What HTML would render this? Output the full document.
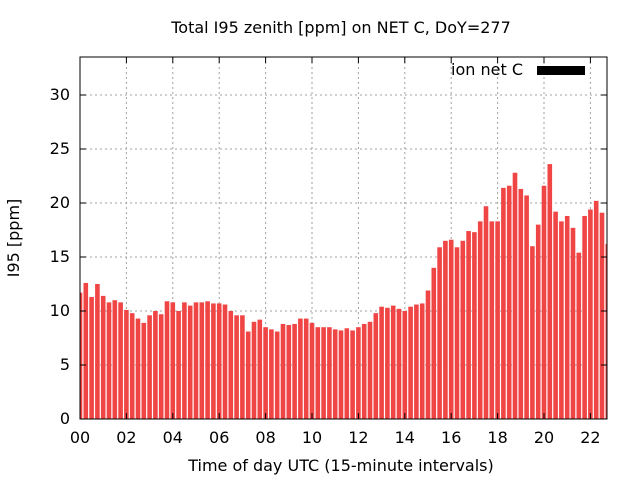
<!DOCTYPE html>
<html><head><meta charset="utf-8"><style>
body{margin:0;background:#fff;width:640px;height:480px;overflow:hidden}
svg text{font-family:"DejaVu Sans","Liberation Sans",sans-serif;font-size:16px;fill:#000}
</style></head><body>
<svg id="c" width="640" height="480">
<defs><clipPath id="clip"><rect x="80" y="57" width="527" height="362"/></clipPath></defs>
<text x="341" y="33" text-anchor="middle">Total I95 zenith [ppm] on NET C, DoY=277</text>
<text x="341" y="471" text-anchor="middle">Time of day UTC (15-minute intervals)</text>
<text transform="translate(19,238) rotate(-90)" text-anchor="middle">I95 [ppm]</text>
<g id="grid"></g>
<g id="bars" clip-path="url(#clip)"></g>
<g id="axes"></g>
<text x="523" y="75" text-anchor="end">ion net C</text>
<rect x="537" y="66" width="48" height="9" fill="#000"/>
</svg>
<script>
const values=[11.7,12.6,11.3,12.5,11.4,10.8,11.0,10.8,10.1,9.8,9.3,8.9,9.6,10.0,9.7,10.9,10.8,10.0,10.8,10.5,10.8,10.8,10.9,10.7,10.7,10.6,10.0,9.6,9.6,8.1,9.0,9.2,8.5,8.3,8.1,8.8,8.7,8.8,9.3,9.3,8.9,8.5,8.5,8.5,8.3,8.2,8.4,8.2,8.5,8.8,9.0,9.8,10.4,10.3,10.5,10.2,10.0,10.4,10.6,10.7,11.9,14.0,15.9,16.5,16.6,15.9,16.5,17.4,17.3,18.3,19.7,18.3,18.3,21.4,21.6,22.8,21.3,20.7,16.0,18.0,21.6,23.6,19.2,18.3,18.8,17.7,15.4,18.8,19.4,20.2,19.1,16.2];
const yTicks=[0,5,10,15,20,25,30];
const xTickLabels=["00","02","04","06","08","10","12","14","16","18","20","22"];
const X0=80,X1=607,Y0=419,Y1=57,PX_H=23.2;
const xs=h=>X0+h*PX_H;
const ys=v=>Y0-v*10.8;
const NS="http://www.w3.org/2000/svg";
function mk(t,a,p){const e=document.createElementNS(NS,t);for(const k in a)e.setAttribute(k,a[k]);p.appendChild(e);return e;}
const grid=document.getElementById('grid'),bars=document.getElementById('bars'),axes=document.getElementById('axes');
yTicks.forEach(v=>{const y=ys(v);
 if(v>0){const l=mk('line',{x1:X0,x2:X1,y1:y,y2:y,stroke:'#a0a0a0','stroke-dasharray':'2,3'},grid);
 
 }
 mk('line',{x1:X0,x2:X0+6,y1:y,y2:y,stroke:'#000'},axes);
 mk('line',{x1:X1,x2:X1-6,y1:y,y2:y,stroke:'#000'},axes);
 const tx=mk('text',{x:X0-10,y:y+5,'text-anchor':'end'},axes);tx.textContent=v;
 
 
});
xTickLabels.forEach((s,i)=>{const x=xs(i*2);
 if(i>0){const l=mk('line',{x1:x,x2:x,y1:Y0,y2:Y1,stroke:'#a0a0a0','stroke-dasharray':'2,3'},grid);
 
 }
 mk('line',{x1:x,x2:x,y1:Y0,y2:Y0-6,stroke:'#000'},axes);
 mk('line',{x1:x,x2:x,y1:Y1,y2:Y1+6,stroke:'#000'},axes);
 const tx=mk('text',{x:x,y:Y0+24,'text-anchor':'middle'},axes);tx.textContent=s;
 
 
});
values.forEach((v,i)=>{const cx=xs(i*0.25),y=ys(v);
 const r=mk('rect',{x:cx-2.3,y:y,width:4.6,height:Y0-y,fill:'#f04545'},bars);
 
 
});
const b=mk('rect',{x:X0,y:Y1,width:X1-X0,height:Y0-Y1,fill:'none',stroke:'#000','stroke-width':1},axes);


</script>
</body></html>
